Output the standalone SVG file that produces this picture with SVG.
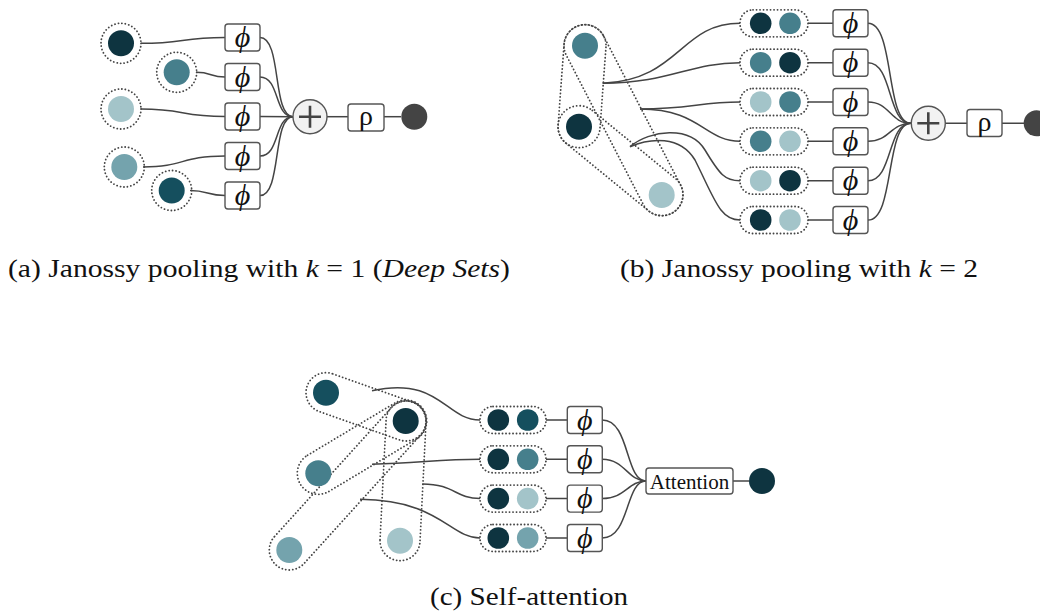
<svg xmlns="http://www.w3.org/2000/svg" width="1040" height="615" viewBox="0 0 1040 615">
<style>
.dk{fill:#0e3440}.mt{fill:#467f8c}.lt{fill:#a3c4c9}.gt{fill:#74a3ad}.dt{fill:#154f5e}.out{fill:#444}
.ring{fill:none;stroke:#444;stroke-width:1.8;stroke-dasharray:0.1 3.4;stroke-linecap:round}
.box{fill:#fff;stroke:#555;stroke-width:1.4}
.plus{fill:#f2f2f2;stroke:#555;stroke-width:1.4}
.pl{stroke:#444;stroke-width:2.6;fill:none}
.ln{fill:none;stroke:#444;stroke-width:1.5}
.phi{font-family:"Liberation Serif","DejaVu Serif",serif;font-style:italic;font-size:30px;fill:#111;text-anchor:middle}
.rho{font-family:"Liberation Serif","DejaVu Serif",serif;font-size:28px;fill:#111;text-anchor:middle}
.att{font-family:"Liberation Serif",serif;font-size:21px;fill:#111;text-anchor:middle}
.cap{font-family:"Liberation Serif",serif;font-size:26px;fill:#111}
.it{font-style:italic}
</style>

<!-- ================= Panel (a) ================= -->
<g id="connectors-a">
<path class="ln" d="M141,43.3 C185,43.3 180,37.5 225,37.5"/>
<path class="ln" d="M196,72.3 C212,72.3 210,77 225,77"/>
<path class="ln" d="M141,109 C185,109 180,116.5 225,116.5"/>
<path class="ln" d="M143,167 C185,167 180,156 225,156"/>
<path class="ln" d="M190,190.5 C208,190.5 207,195.5 225,195.5"/>
<path class="ln" d="M260,37.5 C282,37.5 272,116.7 293,116.7"/>
<path class="ln" d="M260,77 C280,77 274,116.7 293,116.7"/>
<path class="ln" d="M260,116.5 L293,116.7"/>
<path class="ln" d="M260,156 C280,156 274,116.7 293,116.7"/>
<path class="ln" d="M260,195.5 C282,195.5 272,116.7 293,116.7"/>
<path class="ln" d="M327,116.7 L348,116.7"/>
<path class="ln" d="M384,116.7 L401,116.7"/>
</g>
<g id="a-x1"><circle class="ring" cx="121" cy="43.3" r="20"/><circle class="dk" cx="121" cy="43.3" r="13"/></g>
<g id="a-x2"><circle class="ring" cx="176.7" cy="72.3" r="20"/><circle class="mt" cx="176.7" cy="72.3" r="13"/></g>
<g id="a-x3"><circle class="ring" cx="121" cy="109" r="20"/><circle class="lt" cx="121" cy="109" r="13"/></g>
<g id="a-x4"><circle class="ring" cx="124.3" cy="167" r="20"/><circle class="gt" cx="124.3" cy="167" r="13"/></g>
<g id="a-x5"><circle class="ring" cx="171.7" cy="190.5" r="20"/><circle class="dt" cx="171.7" cy="190.5" r="13"/></g>
<g id="a-phi1"><rect class="box" x="225" y="24" width="35" height="27" rx="3"/><text class="phi" x="242.5" y="47">ϕ</text></g>
<g id="a-phi2"><rect class="box" x="225" y="63.5" width="35" height="27" rx="3"/><text class="phi" x="242.5" y="86.5">ϕ</text></g>
<g id="a-phi3"><rect class="box" x="225" y="103" width="35" height="27" rx="3"/><text class="phi" x="242.5" y="126">ϕ</text></g>
<g id="a-phi4"><rect class="box" x="225" y="142.5" width="35" height="27" rx="3"/><text class="phi" x="242.5" y="165.5">ϕ</text></g>
<g id="a-phi5"><rect class="box" x="225" y="182" width="35" height="27" rx="3"/><text class="phi" x="242.5" y="205">ϕ</text></g>
<g id="a-sum"><circle class="plus" cx="310" cy="116.7" r="17"/><path class="pl" d="M299,116.7 H321 M310,105.7 V127.7"/></g>
<g id="a-rho"><rect class="box" x="348" y="104" width="36" height="27" rx="3"/><text class="rho" x="366" y="125">ρ</text></g>
<g id="a-out"><circle class="out" cx="414.3" cy="116.7" r="13"/></g>
<text id="cap-a" class="cap" x="8" y="277" textLength="502" lengthAdjust="spacingAndGlyphs">(a) Janossy pooling with <tspan class="it">k</tspan> = 1 (<tspan class="it">Deep Sets</tspan>)</text>

<!-- ================= Panel (b) ================= -->
<g id="b-hulls">
<rect class="ring" x="-21" y="-21" width="123.2" height="42" rx="21" transform="translate(585,45.7) rotate(94.2)"/>
<rect class="ring" x="-21" y="-21" width="209.7" height="42" rx="21" transform="translate(585,45.7) rotate(62.7)"/>
<rect class="ring" x="-21" y="-21" width="149.3" height="42" rx="21" transform="translate(579,126.7) rotate(39.3)"/>
</g>
<g id="connectors-b">
<path class="ln" d="M602.7,83.3 C680,80 680,23.3 740,23.3"/>
<path class="ln" d="M602.7,83.3 C670,83 690,62.7 740,62.7"/>
<path class="ln" d="M640,109 C690,109 700,102 740,102"/>
<path class="ln" d="M640,109 C700,109 705,141.3 740,141.3"/>
<path class="ln" d="M630,146.7 C650,130 690,125 705,150 C720,175 725,180.7 740,180.7"/>
<path class="ln" d="M630,146.7 C650,138 680,135 695,160 C715,200 720,220 740,220"/>
<path class="ln" d="M808,23.3 H833 M808,62.7 H833 M808,102 H833 M808,141.3 H833 M808,180.7 H833 M808,220 H833"/>
<path class="ln" d="M868,23.3 C895,23.3 885,123.3 911,123.3"/>
<path class="ln" d="M868,62.7 C893,62.7 887,123.3 911,123.3"/>
<path class="ln" d="M868,102 C890,102 890,123.3 911,123.3"/>
<path class="ln" d="M868,141.3 C890,141.3 890,123.3 911,123.3"/>
<path class="ln" d="M868,180.7 C893,180.7 887,123.3 911,123.3"/>
<path class="ln" d="M868,220 C895,220 885,123.3 911,123.3"/>
<path class="ln" d="M945,123.3 H967 M1002,123.3 H1024"/>
</g>
<g id="b-x1"><circle class="mt" cx="585" cy="45.7" r="13"/></g>
<g id="b-x2"><circle class="dk" cx="579" cy="126.7" r="13"/></g>
<g id="b-x3"><circle class="lt" cx="661.7" cy="195" r="13"/></g>
<g id="b-pair1"><rect class="ring" x="740" y="9.8" width="68" height="27" rx="13"/><circle class="dk" cx="760.7" cy="23.3" r="10.8"/><circle class="mt" cx="790" cy="23.3" r="10.8"/></g>
<g id="b-pair2"><rect class="ring" x="740" y="49.2" width="68" height="27" rx="13"/><circle class="mt" cx="760.7" cy="62.7" r="10.8"/><circle class="dk" cx="790" cy="62.7" r="10.8"/></g>
<g id="b-pair3"><rect class="ring" x="740" y="88.5" width="68" height="27" rx="13"/><circle class="lt" cx="760.7" cy="102" r="10.8"/><circle class="mt" cx="790" cy="102" r="10.8"/></g>
<g id="b-pair4"><rect class="ring" x="740" y="127.8" width="68" height="27" rx="13"/><circle class="mt" cx="760.7" cy="141.3" r="10.8"/><circle class="lt" cx="790" cy="141.3" r="10.8"/></g>
<g id="b-pair5"><rect class="ring" x="740" y="167.2" width="68" height="27" rx="13"/><circle class="lt" cx="760.7" cy="180.7" r="10.8"/><circle class="dk" cx="790" cy="180.7" r="10.8"/></g>
<g id="b-pair6"><rect class="ring" x="740" y="206.5" width="68" height="27" rx="13"/><circle class="dk" cx="760.7" cy="220" r="10.8"/><circle class="lt" cx="790" cy="220" r="10.8"/></g>
<g id="b-phi1"><rect class="box" x="833" y="9.8" width="35" height="27" rx="3"/><text class="phi" x="850.5" y="32.8">ϕ</text></g>
<g id="b-phi2"><rect class="box" x="833" y="49.2" width="35" height="27" rx="3"/><text class="phi" x="850.5" y="72.2">ϕ</text></g>
<g id="b-phi3"><rect class="box" x="833" y="88.5" width="35" height="27" rx="3"/><text class="phi" x="850.5" y="111.5">ϕ</text></g>
<g id="b-phi4"><rect class="box" x="833" y="127.8" width="35" height="27" rx="3"/><text class="phi" x="850.5" y="150.8">ϕ</text></g>
<g id="b-phi5"><rect class="box" x="833" y="167.2" width="35" height="27" rx="3"/><text class="phi" x="850.5" y="190.2">ϕ</text></g>
<g id="b-phi6"><rect class="box" x="833" y="206.5" width="35" height="27" rx="3"/><text class="phi" x="850.5" y="229.5">ϕ</text></g>
<g id="b-sum"><circle class="plus" cx="928.3" cy="123.3" r="17"/><path class="pl" d="M917.3,123.3 H939.3 M928.3,112.3 V134.3"/></g>
<g id="b-rho"><rect class="box" x="967" y="109.5" width="35" height="27" rx="3"/><text class="rho" x="984.5" y="130.5">ρ</text></g>
<g id="b-out"><circle class="out" cx="1036.7" cy="123.3" r="13"/></g>
<text id="cap-b" class="cap" x="620" y="277" textLength="358" lengthAdjust="spacingAndGlyphs">(b) Janossy pooling with <tspan class="it">k</tspan> = 2</text>

<!-- ================= Panel (c) ================= -->
<g id="c-hulls">
<rect class="ring" x="-20" y="-20" width="124.8" height="40" rx="20" transform="translate(326,392.7) rotate(19.5)"/>
<rect class="ring" x="-21" y="-21" width="143.9" height="42" rx="21" transform="translate(318.3,473.3) rotate(-30.9)"/>
<rect class="ring" x="-20" y="-20" width="214" height="40" rx="20" transform="translate(289.3,550) rotate(-47.8)"/>
<rect class="ring" x="-20" y="-20" width="160" height="40" rx="20" transform="translate(400,540.7) rotate(-87.1)"/>
</g>
<g id="connectors-c">
<path class="ln" d="M372,390.7 C440,376 445,420 480,420"/>
<path class="ln" d="M372,464.3 C420,463 440,459.3 480,459.3"/>
<path class="ln" d="M422.3,484 C455,484 455,498.6 480,498.6"/>
<path class="ln" d="M360,499.3 C440,500 450,538 480,538"/>
<path class="ln" d="M546,420 H567.3 M546,459.3 H567.3 M546,498.6 H567.3 M546,538 H567.3"/>
<path class="ln" d="M602.3,420 C630,420 625,481 646,481"/>
<path class="ln" d="M602.3,459.3 C625,459.3 628,481 646,481"/>
<path class="ln" d="M602.3,498.6 C625,498.6 628,481 646,481"/>
<path class="ln" d="M602.3,538 C630,538 625,481 646,481"/>
<path class="ln" d="M733,481 H749"/>
</g>
<g id="c-x1"><circle class="dt" cx="326" cy="392.7" r="13"/></g>
<g id="c-x2"><circle class="dk" cx="405.7" cy="421" r="13"/></g>
<g id="c-x3"><circle class="mt" cx="318.3" cy="473.3" r="13"/></g>
<g id="c-x4"><circle class="gt" cx="289.3" cy="550" r="13"/></g>
<g id="c-x5"><circle class="lt" cx="400" cy="540.7" r="13"/></g>
<g id="c-pair1"><rect class="ring" x="480" y="406.5" width="66" height="27" rx="13"/><circle class="dk" cx="498.3" cy="420" r="10.8"/><circle class="dt" cx="527.7" cy="420" r="10.8"/></g>
<g id="c-pair2"><rect class="ring" x="480" y="445.8" width="66" height="27" rx="13"/><circle class="dk" cx="498.3" cy="459.3" r="10.8"/><circle class="mt" cx="527.7" cy="459.3" r="10.8"/></g>
<g id="c-pair3"><rect class="ring" x="480" y="485.1" width="66" height="27" rx="13"/><circle class="dk" cx="498.3" cy="498.6" r="10.8"/><circle class="lt" cx="527.7" cy="498.6" r="10.8"/></g>
<g id="c-pair4"><rect class="ring" x="480" y="524.5" width="66" height="27" rx="13"/><circle class="dk" cx="498.3" cy="538" r="10.8"/><circle class="gt" cx="527.7" cy="538" r="10.8"/></g>
<g id="c-phi1"><rect class="box" x="567.3" y="406.5" width="35" height="27" rx="3"/><text class="phi" x="584.8" y="429.5">ϕ</text></g>
<g id="c-phi2"><rect class="box" x="567.3" y="445.8" width="35" height="27" rx="3"/><text class="phi" x="584.8" y="468.8">ϕ</text></g>
<g id="c-phi3"><rect class="box" x="567.3" y="485.1" width="35" height="27" rx="3"/><text class="phi" x="584.8" y="508.1">ϕ</text></g>
<g id="c-phi4"><rect class="box" x="567.3" y="524.5" width="35" height="27" rx="3"/><text class="phi" x="584.8" y="547.5">ϕ</text></g>
<g id="c-att"><rect class="box" x="646" y="468" width="87" height="26" rx="3"/><text class="att" x="689.5" y="488.5">Attention</text></g>
<g id="c-out"><circle class="dk" cx="762" cy="481" r="13"/></g>
<text id="cap-c" class="cap" x="430" y="605" textLength="198" lengthAdjust="spacingAndGlyphs">(c) Self-attention</text>
</svg>
